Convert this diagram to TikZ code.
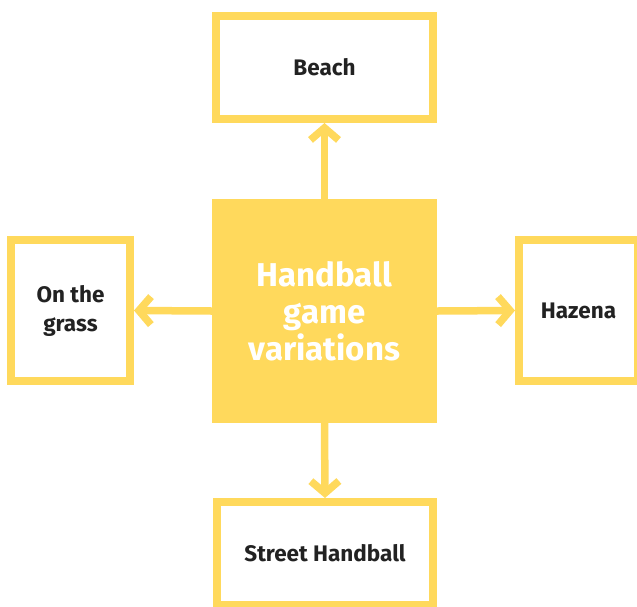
\documentclass[tikz,border=0pt]{standalone}
\usepackage{fontspec}
\setmainfont{Fira Sans}
\usetikzlibrary{arrows.meta}
\definecolor{hbyellow}{RGB}{255,217,92}
\definecolor{hbtext}{RGB}{34,34,34}
\begin{document}
\begin{tikzpicture}[x=1pt,y=-1pt,
  leafbox/.style={draw=hbyellow,line width=8pt,fill=white,rectangle,inner sep=0pt,
    align=center,text=hbtext,font=\fontsize{22.5}{29}\selectfont\bfseries},
  hubbox/.style={fill=hbyellow,rectangle,inner sep=0pt,outer sep=0pt,align=center,
    text=white,font=\fontsize{33}{37}\selectfont\bfseries},
  link/.style={draw=hbyellow,line width=7.5pt,
    -{Straight Barb[length=12pt,width=28pt,line width=7.5pt]}}]
\useasboundingbox (0,0) rectangle (637,606);
\node[hubbox,minimum width=225pt,minimum height=224pt] (hub) at (324.5,311) {Handball\\game\\variations};
\node[leafbox,minimum width=217pt,minimum height=103pt] (beach) at (324.5,67.5) {Beach};
\node[leafbox,minimum width=216pt,minimum height=103pt] (street) at (325,553.5) {Street Handball};
\node[leafbox,minimum width=119pt,minimum height=141pt] (grass) at (70.5,310.5) {On the\\grass};
\node[leafbox,minimum width=119pt,minimum height=141pt] (hazena) at (578.5,310.5) {Hazena};
\draw[link] (hub.north) -- (beach.south);
\draw[link] (hub.south) -- (street.north);
\draw[link] (hub.west) -- (grass.east);
\draw[link] (hub.east) -- (hazena.west);
\end{tikzpicture}
\end{document}
